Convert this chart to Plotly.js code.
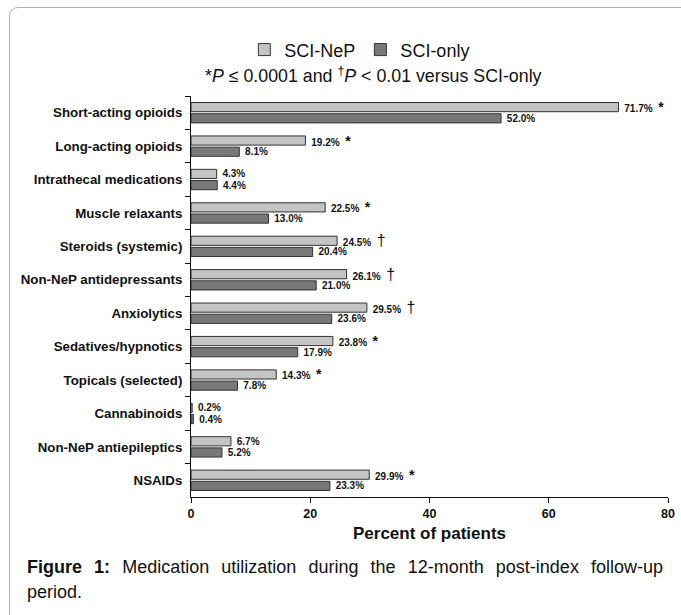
<!DOCTYPE html>
<html>
<head>
<meta charset="utf-8">
<script src="https://cdn.plot.ly/plotly-3.0.1.min.js"></script>
<style>
  html, body { margin: 0; padding: 0; background: #fff; }
  body { width: 681px; height: 615px; position: relative; overflow: hidden; font-family: Arial, "Liberation Sans", sans-serif; }
  #frame { position: absolute; left: 9px; top: 7px; width: 700px; height: 640px; border-top: 1.5px solid #b0b0b0; border-left: 1.5px solid #b0b0b0; border-top-left-radius: 9px; box-sizing: border-box; }
  #chart { position: absolute; left: 0; top: 0; width: 681px; height: 550px; }
  #caption { position: absolute; left: 27px; top: 555px; width: 636px; font-size: 18px; line-height: 25px; color: #111; text-align: justify; text-align-last: left; }
</style>
</head>
<body>
<div id="frame"></div>
<div id="chart"></div>
<div id="caption"><b>Figure 1:</b> Medication utilization during the 12-month post-index follow-up period.</div>
<script>
const categories = [
  "Short-acting opioids", "Long-acting opioids", "Intrathecal medications",
  "Muscle relaxants", "Steroids (systemic)", "Non-NeP antidepressants",
  "Anxiolytics", "Sedatives/hypnotics", "Topicals (selected)",
  "Cannabinoids", "Non-NeP antiepileptics", "NSAIDs"
];
const sciNeP  = [71.7, 19.2, 4.3, 22.5, 24.5, 26.1, 29.5, 23.8, 14.3, 0.2, 6.7, 29.9];
const sciOnly = [52.0, 8.1, 4.4, 13.0, 20.4, 21.0, 23.6, 17.9, 7.8, 0.4, 5.2, 23.3];
const significance = ["*", "*", "", "*", "†", "†", "†", "*", "*", "", "", "*"];
const xTicks = [0, 20, 40, 60, 80];

const fontFam = 'Arial, "Liberation Sans", sans-serif';

function markerHtml(m) {
  if (!m) return "";
  if (m === "†") return '&nbsp;&nbsp;<span style="font-size:16px;font-weight:normal">†</span>';
  return '&nbsp;&nbsp;<span style="font-size:14px">*</span>';
}

const nepText = sciNeP.map((v, i) => "&nbsp;" + v.toFixed(1) + "%" + markerHtml(significance[i]));
const onlyText = sciOnly.map(v => "&nbsp;" + v.toFixed(1) + "%");

const traces = [
  {
    type: "bar", orientation: "h", name: "SCI-NeP",
    x: sciNeP, y: categories,
    marker: { color: "#c4c4c4", line: { color: "#333", width: 1 } },
    text: nepText, textposition: "outside", constraintext: "none", cliponaxis: false,
    textfont: { family: fontFam, size: 10, color: "#111", weight: "bold" },
    hoverinfo: "x+y"
  },
  {
    type: "bar", orientation: "h", name: "SCI-only",
    x: sciOnly, y: categories,
    marker: { color: "#787878", line: { color: "#333", width: 1 } },
    text: onlyText, textposition: "outside", constraintext: "none", cliponaxis: false,
    textfont: { family: fontFam, size: 10, color: "#111", weight: "bold" },
    hoverinfo: "x+y"
  }
];

const layout = {
  width: 681, height: 550,
  margin: { l: 191, r: 13, t: 96, b: 53, pad: 0 },
  paper_bgcolor: "rgba(0,0,0,0)",
  plot_bgcolor: "rgba(0,0,0,0)",
  font: { family: fontFam, color: "#111" },
  barmode: "group",
  bargap: 0.33,
  bargroupgap: 0.18,
  showlegend: true,
  legend: {
    orientation: "h", x: 0.354, xanchor: "center", y: 1.115, yanchor: "middle",
    font: { family: fontFam, size: 18, color: "#111" },
    traceorder: "normal", itemwidth: 30, bgcolor: "rgba(0,0,0,0)"
  },
  xaxis: {
    range: [0, 80], tickvals: xTicks, ticktext: xTicks.map(String),
    showgrid: false, zeroline: false,
    showline: true, linecolor: "#111", linewidth: 1,
    ticks: "outside", ticklen: 5, tickcolor: "#111",
    tickfont: { family: fontFam, size: 12.5, weight: "bold", color: "#111" },
    title: { text: "Percent of patients", font: { family: fontFam, size: 17, weight: "bold", color: "#111" }, standoff: 7 },
    fixedrange: true
  },
  yaxis: {
    type: "category", autorange: "reversed",
    showgrid: false, zeroline: false,
    showline: true, linecolor: "#111", linewidth: 1,
    ticks: "outside", ticklen: 5, tickcolor: "#111", tickson: "boundaries",
    tickfont: { family: fontFam, size: 13.3, weight: "bold", color: "#111" },
    ticklabelstandoff: 5,
    fixedrange: true
  },
  annotations: [
    {
      xref: "paper", yref: "paper", x: 0.3836, y: 1.052, xanchor: "center", yanchor: "middle",
      showarrow: false,
      text: "*<i>P</i> ≤ 0.0001 and <sup>†</sup><i>P</i> &lt; 0.01 versus SCI-only",
      font: { family: fontFam, size: 17.8, color: "#111" }
    }
  ]
};

Plotly.newPlot("chart", traces, layout, { displayModeBar: false, staticPlot: true });
</script>
</body>
</html>
